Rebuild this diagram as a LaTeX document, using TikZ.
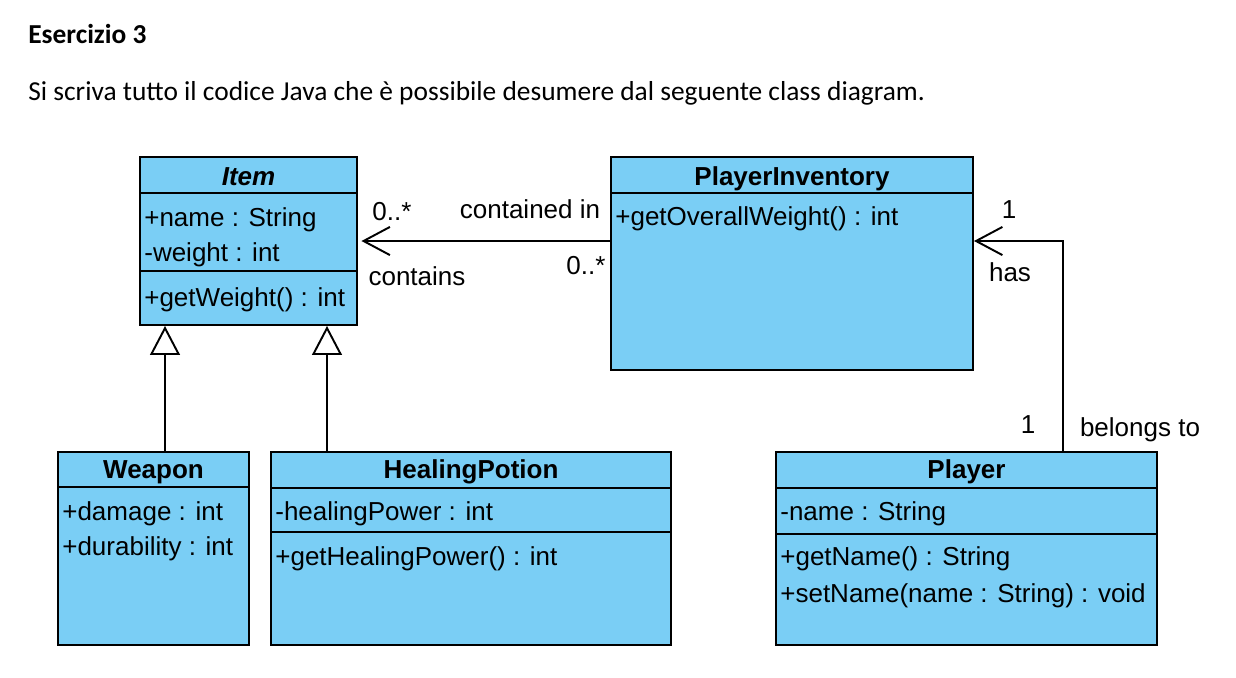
\documentclass[tikz,border=0pt]{standalone}
\usepackage{fontspec}
\usetikzlibrary{arrows.meta, positioning, fit}
\newfontfamily\docfont{Carlito}
\newfontfamily\umlfont{Liberation Sans}
\definecolor{classblue}{RGB}{122,206,245}

\begin{document}
\begin{tikzpicture}[x=0.02cm, y=-0.02cm,
    cls/.style={draw, line width=1.1pt, fill=classblue, inner sep=0pt},
    hdr/.style={anchor=base, inner sep=0pt, font=\umlfont\fontsize{14.8}{17}\selectfont\bfseries},
    mbr/.style={anchor=base west, inner sep=0pt, font=\umlfont\fontsize{14.8}{17}\selectfont},
    lbl/.style={anchor=base, inner sep=0pt, font=\umlfont\fontsize{14.8}{17}\selectfont},
    sep/.style={line width=1.1pt},
    assoc/.style={line width=1.1pt, -{Straight Barb[length=15pt, width=16pt]}},
    gen/.style={line width=1.1pt, -{Triangle[open, length=16.5pt, width=17pt]}}
]
\useasboundingbox (0,0) rectangle (1236,677);

% heading
\node[anchor=base west, inner sep=0pt, font=\docfont\fontsize{15.6}{18}\selectfont\bfseries] (title) at (28,43) {Esercizio 3};
\node[anchor=base west, inner sep=0pt, font=\docfont\fontsize{15.6}{18}\selectfont] (task) at (28,100)
    {Si scriva tutto il codice Java che è possibile desumere dal seguente class diagram.};

% classes
\node[cls, fit={(140,157) (357,325)}] (item) {};
\draw[sep] (item.west |- 0,193) -- (item.east |- 0,193);
\draw[sep] (item.west |- 0,271) -- (item.east |- 0,271);
\node[hdr] (itemname) at (248.5,185) {\itshape Item};
\node[mbr] (itemname1) at (144,226) {+name : String};
\node[mbr] (itemweight) at (144,261) {-weight : int};
\node[mbr] (itemget) at (144,306) {+getWeight() : int};

\node[cls, fit={(611,157) (973,370)}] (inv) {};
\draw[sep] (inv.west |- 0,193) -- (inv.east |- 0,193);
\node[hdr] (invname) at (792,185) {PlayerInventory};
\node[mbr] (invget) at (615,225) {+getOverallWeight() : int};

\node[cls, fit={(58,452) (249,645)}] (weapon) {};
\draw[sep] (weapon.west |- 0,487) -- (weapon.east |- 0,487);
\node[hdr] (weaponname) at (153.5,478) {Weapon};
\node[mbr] (weapondmg) at (62,520) {+damage : int};
\node[mbr] (weapondur) at (62,555) {+durability : int};

\node[cls, fit={(271,452) (671,645)}] (potion) {};
\draw[sep] (potion.west |- 0,488) -- (potion.east |- 0,488);
\draw[sep] (potion.west |- 0,532) -- (potion.east |- 0,532);
\node[hdr] (potionname) at (471,478) {HealingPotion};
\node[mbr] (potionpow) at (275,520) {-healingPower : int};
\node[mbr] (potionget) at (275,565) {+getHealingPower() : int};

\node[cls, fit={(776,452) (1157,645)}] (player) {};
\draw[sep] (player.west |- 0,488) -- (player.east |- 0,488);
\draw[sep] (player.west |- 0,534) -- (player.east |- 0,534);
\node[hdr] (playername) at (966.5,478) {Player};
\node[mbr] (playerattr) at (780,520) {-name : String};
\node[mbr] (playerget) at (780,565) {+getName() : String};
\node[mbr] (playerset) at (780,602) {+setName(name : String) : void};

% relations
\draw[assoc, shorten >=2pt] (inv.west |- 0,241) -- (item.east |- 0,241);
\draw[assoc] (player.north -| 1063,0) |- (inv.east |- 0,241);
\draw[gen] (weapon.north -| 165,0) -- (item.south -| 165,0);
\draw[gen] (potion.north -| 327,0) -- (item.south -| 327,0);

% multiplicities and roles
\node[lbl] (multitem) at (392,220) {0..*};
\node[lbl] (roleinv) at (530,218) {contained in};
\node[lbl] (roleitem) at (417,285) {contains};
\node[lbl] (multinv) at (586,274) {0..*};
\node[lbl] (multplayer) at (1009,218) {1};
\node[lbl] (rolehas) at (1010,281) {has};
\node[lbl] (multown) at (1028,433) {1};
\node[lbl] (rolebelongs) at (1140,436) {belongs to};
\end{tikzpicture}
\end{document}
